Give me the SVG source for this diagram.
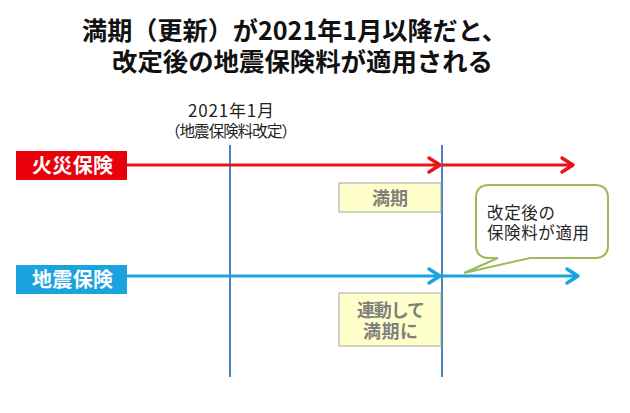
<svg xmlns="http://www.w3.org/2000/svg" width="630" height="413" viewBox="0 0 630 413">
<style>
text{font-family:"Noto Sans CJK JP","Noto Sans",sans-serif;}
.title{font-size:25px;font-weight:bold;fill:#111;text-anchor:middle;}
.lbl{font-size:20px;font-weight:bold;fill:#fff;text-anchor:middle;}
.note{font-size:18px;font-weight:bold;fill:#7f7f7f;text-anchor:middle;}
.call{font-size:16.5px;fill:#262626;}
.date{fill:#222;text-anchor:middle;}
.vline{stroke:#4f81bd;stroke-width:2;}
.ybox{fill:#ffffcc;stroke:#a6a6a6;stroke-width:1;}
.red{stroke:#e8141a;stroke-width:3;fill:none;}
.blue{stroke:#1aa3df;stroke-width:3;fill:none;}
.head{stroke-linecap:round;stroke-linejoin:round;stroke-width:3.5;}
</style>
<rect width="630" height="413" fill="#fff"/>
<g id="title">
<text class="title" x="294.5" y="40" textLength="425" lengthAdjust="spacingAndGlyphs">満期（更新）が2021年1月以降だと、</text>
<text class="title" x="302.5" y="71" textLength="381" lengthAdjust="spacingAndGlyphs">改定後の地震保険料が適用される</text>
</g>
<g id="date-label">
<text class="date" x="231" y="117" font-size="17" textLength="86">2021年1月</text>
<text class="date" x="231" y="137" font-size="15.5" textLength="132">（地震保険料改定）</text>
</g>
<g id="connectors">
<line class="vline" x1="230" y1="145" x2="230" y2="377"/>
<line class="vline" x1="442" y1="145" x2="442" y2="377"/>
<line class="red" x1="127" y1="165" x2="439" y2="165"/>
<polyline class="red head" points="429,158 440,165 429,172"/>
<line class="red" x1="442" y1="165" x2="572" y2="165"/>
<polyline class="red head" points="562,158 573,165 562,172"/>
<line class="blue" x1="127" y1="276" x2="439" y2="276"/>
<polyline class="blue head" points="429,269 440,276 429,283"/>
<line class="blue" x1="442" y1="276" x2="577" y2="276"/>
<polyline class="blue head" points="567,269 578,276 567,283"/>
</g>
<g id="fire">
<rect x="16" y="151" width="111" height="29" fill="#e8000b"/>
<text class="lbl" x="72.5" y="173" textLength="81">火災保険</text>
</g>
<g id="quake">
<rect x="16" y="265" width="111" height="29" fill="#1aa3df"/>
<text class="lbl" x="72.5" y="287" textLength="81">地震保険</text>
</g>
<g id="maturity">
<rect class="ybox" x="339" y="183" width="102" height="29"/>
<text class="note" x="390" y="205" textLength="36">満期</text>
</g>
<g id="linked">
<rect class="ybox" x="339" y="293" width="102" height="53"/>
<text class="note" x="391" y="317" textLength="68">連動して</text>
<text class="note" x="390.5" y="337.5" textLength="55">満期に</text>
</g>
<g id="callout">
<path d="M489,185 H595 Q608,185 608,198 V245 Q608,258 595,258 H530 L464,273 L498,258 H489 Q476,258 476,245 V198 Q476,185 489,185 Z" fill="#fff" stroke="#9bbb59" stroke-width="2"/>
<text class="call" x="487" y="219" textLength="68">改定後の</text>
<text class="call" x="487" y="239" textLength="102">保険料が適用</text>
</g>
</svg>
